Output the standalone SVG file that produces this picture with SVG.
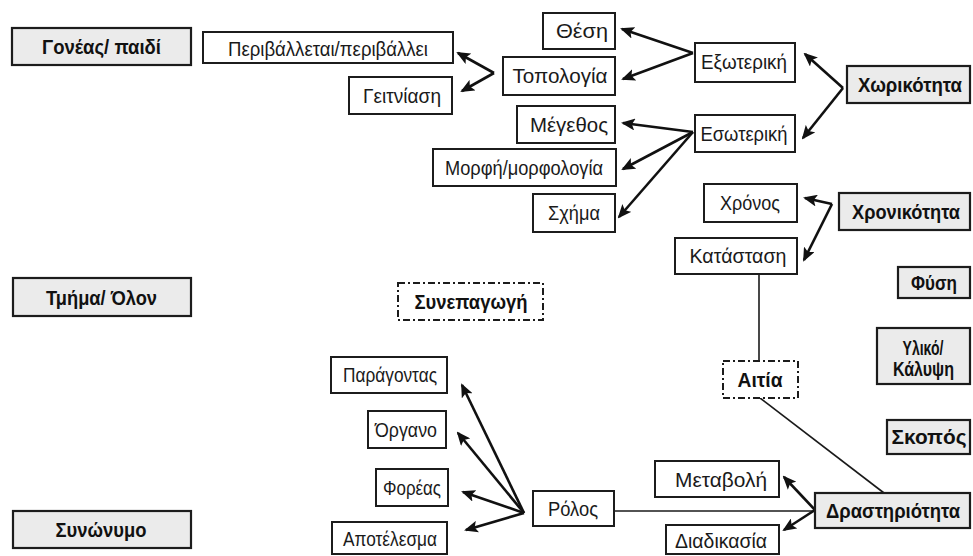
<svg xmlns="http://www.w3.org/2000/svg" width="973" height="556" viewBox="0 0 973 556">
<style>
  .bx{fill:#ffffff;stroke:#1c1c1c;stroke-width:2}
  .gb{fill:#ebebeb;stroke:#1c1c1c;stroke-width:2.2}
  .db{fill:#ffffff;stroke:#1c1c1c;stroke-width:2;stroke-dasharray:7 3 2 3}
  .t{font-family:"Liberation Sans",Arial,sans-serif;font-size:21px;fill:#1a1a1a;text-anchor:middle}
  .b{font-family:"Liberation Sans",Arial,sans-serif;font-size:21px;font-weight:bold;fill:#111;text-anchor:middle}
  .ar{stroke:#111;stroke-width:2.6;fill:none;marker-end:url(#ah)}
  .ln{stroke:#1a1a1a;stroke-width:1.6;fill:none}
</style>
<defs>
  <marker id="ah" markerUnits="userSpaceOnUse" markerWidth="14" markerHeight="12" refX="12" refY="6" orient="auto">
    <path d="M0,0 L14,6 L0,12 L3,6 z" fill="#111"/>
  </marker>
</defs>
<rect width="973" height="556" fill="#ffffff"/>

<g id="connectors">
  <line class="ar" x1="494" y1="73" x2="458" y2="53"/>
  <line class="ar" x1="494" y1="73" x2="462" y2="91"/>
  <line class="ar" x1="693" y1="53" x2="622" y2="29"/>
  <line class="ar" x1="693" y1="53" x2="623" y2="79"/>
  <line class="ar" x1="843" y1="88" x2="805" y2="54"/>
  <line class="ar" x1="843" y1="88" x2="803" y2="138"/>
  <line class="ar" x1="693" y1="132" x2="623" y2="123"/>
  <line class="ar" x1="693" y1="132" x2="623" y2="169"/>
  <line class="ar" x1="693" y1="132" x2="619" y2="217"/>
  <line class="ar" x1="832" y1="204" x2="805" y2="198"/>
  <line class="ar" x1="832" y1="204" x2="804" y2="260"/>
  <line class="ln" x1="759" y1="274" x2="759" y2="361"/>
  <line class="ln" x1="760" y1="398" x2="884" y2="493"/>
  <line class="ln" x1="614" y1="511" x2="815" y2="511"/>
  <line class="ar" x1="815" y1="510" x2="784" y2="477"/>
  <line class="ar" x1="815" y1="510" x2="784" y2="530"/>
  <line class="ar" x1="524" y1="513" x2="462" y2="385"/>
  <line class="ar" x1="524" y1="513" x2="458" y2="433"/>
  <line class="ar" x1="524" y1="513" x2="463" y2="492"/>
  <line class="ar" x1="524" y1="513" x2="466" y2="530"/>
</g>

<g id="goneas"><rect class="gb" x="12" y="28" width="179" height="37"/><text class="b" x="101.5" y="54" textLength="119" lengthAdjust="spacingAndGlyphs">Γονέας/ παιδί</text></g>
<g id="tmima"><rect class="gb" x="13" y="278" width="178" height="38"/><text class="b" x="101.5" y="305" textLength="111" lengthAdjust="spacingAndGlyphs">Τμήμα/ Όλον</text></g>
<g id="synonymo"><rect class="gb" x="13" y="511" width="178" height="37"/><text class="b" x="101" y="537" textLength="91" lengthAdjust="spacingAndGlyphs">Συνώνυμο</text></g>

<g id="perivalletai"><rect class="bx" x="203" y="32" width="250" height="31"/><text class="t" x="328" y="56" textLength="200" lengthAdjust="spacingAndGlyphs">Περιβάλλεται/περιβάλλει</text></g>
<g id="geitniasi"><rect class="bx" x="349" y="77" width="103" height="37"/><text class="t" x="402" y="103" textLength="78" lengthAdjust="spacingAndGlyphs">Γειτνίαση</text></g>

<g id="thesi"><rect class="bx" x="543" y="13" width="72" height="36"/><text class="t" x="582" y="38" textLength="52" lengthAdjust="spacingAndGlyphs">Θέση</text></g>
<g id="topologia"><rect class="bx" x="503" y="57" width="112" height="38"/><text class="t" x="560" y="83" textLength="95" lengthAdjust="spacingAndGlyphs">Τοπολογία</text></g>
<g id="megethos"><rect class="bx" x="517" y="106" width="98" height="37"/><text class="t" x="569" y="132" textLength="78" lengthAdjust="spacingAndGlyphs">Μέγεθος</text></g>
<g id="morfi"><rect class="bx" x="433" y="149" width="183" height="37"/><text class="t" x="524" y="175" textLength="158" lengthAdjust="spacingAndGlyphs">Μορφή/μορφολογία</text></g>
<g id="schima"><rect class="bx" x="533" y="194" width="82" height="38"/><text class="t" x="574" y="220" textLength="52" lengthAdjust="spacingAndGlyphs">Σχήμα</text></g>

<g id="exoteriki"><rect class="bx" x="695" y="43" width="100" height="39"/><text class="t" x="744" y="69" textLength="86" lengthAdjust="spacingAndGlyphs">Εξωτερική</text></g>
<g id="esoteriki"><rect class="bx" x="695" y="115" width="100" height="37"/><text class="t" x="744" y="141" textLength="87" lengthAdjust="spacingAndGlyphs">Εσωτερική</text></g>
<g id="chorikotita"><rect class="gb" x="847" y="66" width="123" height="37"/><text class="b" x="910" y="92" textLength="104" lengthAdjust="spacingAndGlyphs">Χωρικότητα</text></g>

<g id="chronos"><rect class="bx" x="704" y="184" width="93" height="38"/><text class="t" x="750" y="210" textLength="60" lengthAdjust="spacingAndGlyphs">Χρόνος</text></g>
<g id="katastasi"><rect class="bx" x="675" y="238" width="122" height="36"/><text class="t" x="738" y="263" textLength="97" lengthAdjust="spacingAndGlyphs">Κατάσταση</text></g>
<g id="chronikotita"><rect class="gb" x="839" y="193" width="131" height="37"/><text class="b" x="906" y="219" textLength="108" lengthAdjust="spacingAndGlyphs">Χρονικότητα</text></g>
<g id="fysi"><rect class="gb" x="898" y="267" width="72" height="31"/><text class="b" x="934" y="290" textLength="46" lengthAdjust="spacingAndGlyphs">Φύση</text></g>
<g id="yliko"><rect class="gb" x="877" y="328" width="93" height="56"/><text class="b" x="923" y="355" textLength="41" lengthAdjust="spacingAndGlyphs">Υλικό/</text><text class="b" x="923.5" y="376" textLength="61" lengthAdjust="spacingAndGlyphs">Κάλυψη</text></g>
<g id="skopos"><rect class="gb" x="887" y="420" width="83" height="34"/><text class="b" x="929" y="444" textLength="75" lengthAdjust="spacingAndGlyphs">Σκοπός</text></g>

<g id="synepagogi"><rect class="db" x="398" y="283" width="145" height="37"/><text class="b" x="471" y="309" textLength="113" lengthAdjust="spacingAndGlyphs">Συνεπαγωγή</text></g>
<g id="aitia"><rect class="db" x="723" y="361" width="75" height="37"/><text class="b" x="760" y="387" textLength="45" lengthAdjust="spacingAndGlyphs">Αιτία</text></g>

<g id="paragontas"><rect class="bx" x="331" y="357" width="116" height="36"/><text class="t" x="390" y="382" textLength="94" lengthAdjust="spacingAndGlyphs">Παράγοντας</text></g>
<g id="organo"><rect class="bx" x="368" y="411" width="78" height="37"/><text class="t" x="406" y="437" textLength="62" lengthAdjust="spacingAndGlyphs">Όργανο</text></g>
<g id="foreas"><rect class="bx" x="376" y="469" width="72" height="37"/><text class="t" x="412" y="495" textLength="58" lengthAdjust="spacingAndGlyphs">Φορέας</text></g>
<g id="apotelesma"><rect class="bx" x="332" y="522" width="115" height="32"/><text class="t" x="390" y="546" textLength="94" lengthAdjust="spacingAndGlyphs">Αποτέλεσμα</text></g>
<g id="rolos"><rect class="bx" x="533" y="491" width="81" height="35"/><text class="t" x="573" y="516" textLength="50" lengthAdjust="spacingAndGlyphs">Ρόλος</text></g>

<g id="metavoli"><rect class="bx" x="655" y="461" width="124" height="36"/><text class="t" x="721" y="487" textLength="92" lengthAdjust="spacingAndGlyphs">Μεταβολή</text></g>
<g id="diadikasia"><rect class="bx" x="666" y="525" width="113" height="29"/><text class="t" x="721" y="548" textLength="92" lengthAdjust="spacingAndGlyphs">Διαδικασία</text></g>
<g id="drastiriotita"><rect class="gb" x="815" y="493" width="155" height="35"/><text class="b" x="893" y="518" textLength="134" lengthAdjust="spacingAndGlyphs">Δραστηριότητα</text></g>
</svg>
